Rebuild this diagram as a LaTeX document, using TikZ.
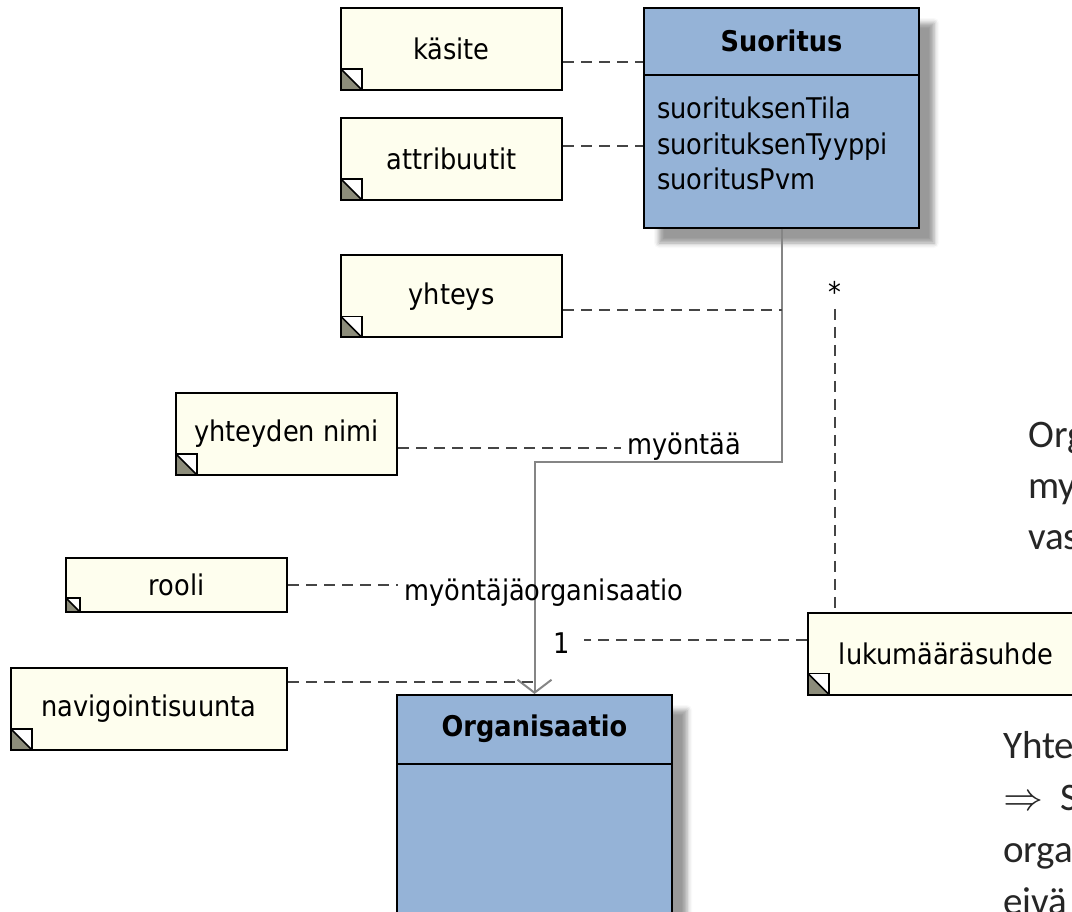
\documentclass[tikz,border=0pt]{standalone}
\usepackage{fontspec}
\setmainfont{DejaVu Sans Condensed}
\newfontfamily\slidefont{Carlito}
\newfontfamily\arrowglyph{Latin Modern Math}
\usetikzlibrary{arrows.meta,shadows.blur}

\definecolor{notefill}{HTML}{FEFEEE}
\definecolor{classfill}{HTML}{95B3D7}
\definecolor{foldfill}{HTML}{8C8C7A}
\definecolor{linkgray}{HTML}{454545}
\definecolor{assocgray}{HTML}{858585}
\definecolor{slidetext}{HTML}{262626}

\newcommand\diagfont{\fontsize{28.5}{35}\selectfont}
\newcommand\slidesize{\slidefont\fontsize{39}{48}\selectfont}

\tikzset{
  notecorner/.store in=\ncsz,
  notecorner=21pt,
  note/.style={draw=black, line width=2pt, fill=notefill,
    minimum width=221pt, minimum height=82pt, inner sep=0pt, font=\diagfont,
    path picture={
      \coordinate (c0) at (path picture bounding box.south west);
      \fill[white] (c0) rectangle ++(\ncsz,\ncsz);
      \fill[foldfill] (c0) -- ++(0pt,\ncsz) -- ++(\ncsz,-\ncsz) -- cycle;
      \draw[line width=1.6pt] (c0) rectangle ++(\ncsz,\ncsz);
      \draw[line width=1.6pt] (c0) ++(0pt,\ncsz) -- ++(\ncsz,-\ncsz);
    }},
  umlclass/.style={draw=black, line width=2pt, fill=classfill,
    minimum width=275pt, inner sep=0pt,
    blur shadow={shadow xshift=15pt, shadow yshift=-15pt,
      shadow blur radius=5pt, shadow opacity=40}},
  classname/.style={font=\diagfont\bfseries, inner sep=0pt},
  attr/.style={font=\diagfont, inner sep=0pt, anchor=base west},
  sep/.style={draw=black, line width=2pt},
  link/.style={draw=linkgray, line width=2.2pt, dash pattern=on 11pt off 7pt},
  assoc/.style={draw=assocgray, line width=2pt},
  lbl/.style={font=\diagfont, inner sep=6pt},
  slide/.style={font=\slidesize, text=slidetext, inner sep=0pt, anchor=base west},
}

\begin{document}
\begin{tikzpicture}[x=1pt,y=-1pt]
\useasboundingbox (0,0) rectangle (1072,912);
\clip (0,0) rectangle (1072,912);

% classes
\node[umlclass, minimum height=220pt] (suor) at (781.5,118) {};
\draw[sep] ([yshift=-68pt]suor.north west) -- ([yshift=-68pt]suor.north east);
\node[classname] (suorname) at ([yshift=-34pt]suor.north) {Suoritus};
\node[attr] (a1) at ([xshift=14pt,yshift=-112pt]suor.north west) {suorituksenTila};
\node[attr] (a2) at ([xshift=14pt,yshift=-147.5pt]suor.north west) {suorituksenTyyppi};
\node[attr] (a3) at ([xshift=14pt,yshift=-183pt]suor.north west) {suoritusPvm};

\node[umlclass, minimum height=240pt] (org) at (534.5,815) {};
\draw[sep] ([yshift=-70pt]org.north west) -- ([yshift=-70pt]org.north east);
\node[classname] (orgname) at ([yshift=-35pt]org.north) {Organisaatio};

% notes
\node[note] (kasite) at (451.5,49) {käsite};
\node[note] (attrib) at (451.5,159) {attribuutit};
\node[note] (yhteys) at (451.5,296.5) {yhteys};
\node[note] (ynimi) at (286.5,434) {yhteyden nimi};
\node[note, minimum height=54pt, notecorner=14pt] (rooli) at (176.5,585) {rooli};
\node[note, minimum width=276pt] (navi) at (149,709) {navigointisuunta};
\node[note, minimum width=276pt] (luku) at (946,653.5) {lukumääräsuhde};

% association with its labels
\draw[assoc, -{Straight Barb[length=13pt,width=34pt,line width=2pt]}]
  (suor.south) -- ++(0,233) -| (org.north);
\node[lbl] (aname) at (684,447) {myöntää};
\node[lbl] (arole) at (544,593) {myöntäjäorganisaatio};
\node[lbl] (one) at (562,643) {1};
\node[lbl] (many) at (835,292) {*};

% note links
\draw[link] ([yshift=-13pt]kasite.east) -- ([yshift=-13pt]kasite.east -| suor.west);
\draw[link] ([yshift=13pt]attrib.east) -- ([yshift=13pt]attrib.east -| suor.west);
\draw[link] ([yshift=-13.5pt]yhteys.east) -- ([yshift=-13.5pt]yhteys.east -| suor.south);
\draw[link] ([yshift=-14pt]ynimi.east) -- ([yshift=-14pt]ynimi.east -| aname.west);
\draw[link] (rooli.east) -- (rooli.east -| arole.west);
\path ([yshift=27pt]navi.east) coordinate (nv);
\draw[link] (nv) -- ([xshift=-2pt]nv -| org.north);
\path ([yshift=13.5pt]luku.west) coordinate (lk);
\draw[link, shorten >=8pt] (lk) -- (lk -| one.east);
\draw[link] (many.south) -- (many.south |- luku.north);

% slide text running past the edge
\node[slide] (s1) at (1028,447) {Org};
\node[slide] (s2) at (1028,498) {my};
\node[slide] (s3) at (1028,549) {vas};
\node[slide] (s4) at (1003,758) {Yhte};
\node[slide] (s5) at (1003,810) {{\arrowglyph\fontsize{40}{48}\selectfont ⇒}\hspace{0.45em}S};
\node[slide] (s6) at (1003,862) {orga};
\node[slide] (s7) at (1003,914) {eivä};
\end{tikzpicture}
\end{document}
